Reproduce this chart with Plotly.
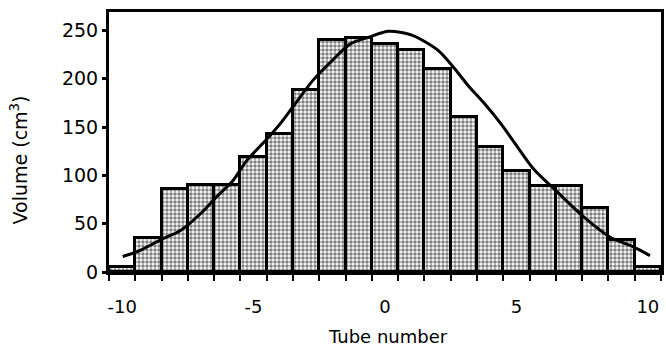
import plotly.graph_objects as go

# Data
tubes = list(range(-10, 11))
volumes = [5, 35, 86, 90, 90, 119, 143, 188, 240, 242, 236, 230, 210, 160, 129, 105, 89, 89, 66, 33, 5]

curve_x = [-9.98, -9.42, -8.48, -7.78, -7.03, -6.4, -5.77, -5.27, -4.51, -4.0, -3.5, -2.75,
           -2.0, -1.32, -0.61, 0.14, 1.02, 2.03, 2.66, 3.16, 3.79, 4.42, 5.05, 5.67, 6.43,
           7.56, 8.57, 9.45, 10.08]
curve_y = [16, 21, 34, 43, 60, 78, 95, 115, 137, 153, 171, 198,
           219, 236, 243, 249, 245, 229, 210, 193, 174, 153, 129, 106, 86,
           57, 36, 26, 17]

x_tick_vals = [-10, -5, 0, 5, 10]
x_tick_text = ["-10", "-5", "0", "5", "10"]
y_tick_vals = [0, 50, 100, 150, 200, 250]
bar_edges = [t - 0.5 for t in tubes] + [tubes[-1] + 0.5]

FONT = "DejaVu Sans"
L, R, T, B = 109, 2, 12, 77
W, H = 666, 349
PW, PH = W - L - R, H - T - B

fig = go.Figure()
fig.add_trace(go.Bar(
    x=tubes, y=volumes, width=1,
    marker=dict(
        color="white",
        line=dict(color="black", width=3),
        pattern=dict(shape=".", fgcolor="black", bgcolor="white", size=4, solidity=0.6),
    ),
    showlegend=False,
))
fig.add_trace(go.Scatter(
    x=curve_x, y=curve_y, mode="lines",
    line=dict(color="black", width=3, shape="spline", smoothing=0.8),
    showlegend=False,
))

fig.update_layout(
    width=W, height=H,
    margin=dict(l=L, r=R, t=T, b=B),
    paper_bgcolor="white", plot_bgcolor="white",
    bargap=0,
    font=dict(family=FONT, color="black", size=18),
    xaxis=dict(
        range=[-10.5, 10.5],
        tickvals=x_tick_vals, ticktext=x_tick_text,
        ticks="", ticklabelstandoff=16,
        tickfont=dict(size=18),
        minor=dict(tickvals=bar_edges, ticks="outside", ticklen=6, tickwidth=2, tickcolor="black"),
        showline=True, linecolor="black", linewidth=3, mirror=True,
        showgrid=False, zeroline=False,
    ),
    yaxis=dict(
        range=[0, 269],
        tickvals=y_tick_vals,
        ticks="outside", ticklen=4, tickwidth=2.5, tickcolor="black",
        tickfont=dict(size=19),
        showline=True, linecolor="black", linewidth=3, mirror=True,
        showgrid=False, zeroline=False,
    ),
    annotations=[
        dict(text="Tube number", x=(390 - L) / PW, y=(H - B - 336) / PH,
             xref="paper", yref="paper", xanchor="center", yanchor="middle",
             showarrow=False, font=dict(size=18)),
        dict(text="Volume (cm<sup>3</sup>)", textangle=-90,
             x=(19 - L) / PW, y=(H - B - 160) / PH,
             xref="paper", yref="paper", xanchor="center", yanchor="middle",
             showarrow=False, font=dict(size=19)),
    ],
)

fig.write_html("out.html")
